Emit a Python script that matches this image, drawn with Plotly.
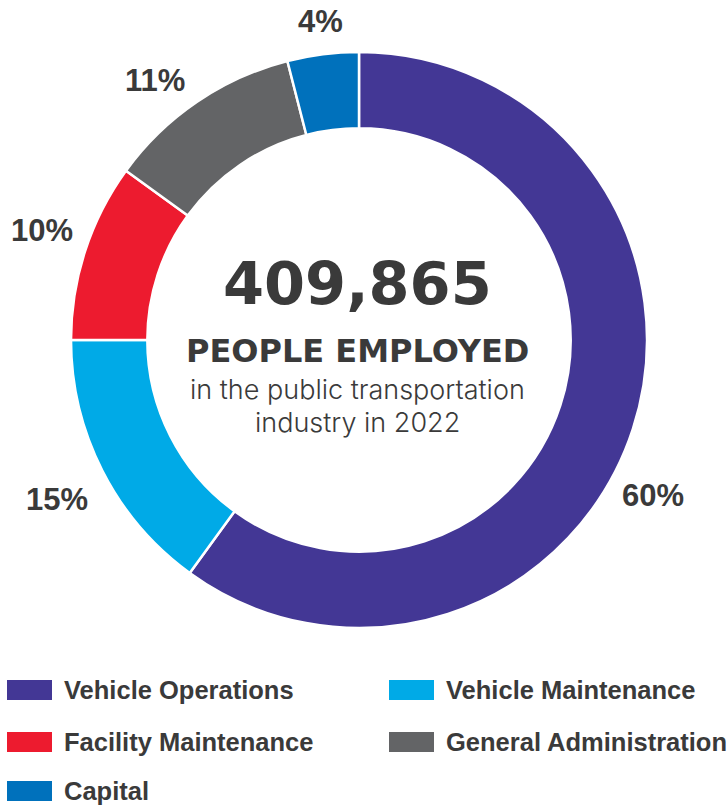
import plotly.graph_objects as go

W, H = 727, 805

categories = ["Vehicle Operations", "Vehicle Maintenance", "Facility Maintenance",
              "General Administration", "Capital"]
values = [60, 15, 10, 11, 4]
colors = ["#433795", "#00AAE7", "#ED1B2F", "#636466", "#0071BC"]
pct_labels = ["60%", "15%", "10%", "11%", "4%"]
label_pos = [(653, 496), (57, 499), (42, 230), (155, 81), (320, 22)]  # pixel centers

legend_order = [0, 1, 2, 3, 4]
legend_pos = [(7, 690), (389, 690), (7, 742), (389, 742), (7, 791)]

total_employed = "409,865"
headline = "PEOPLE EMPLOYED"
sub_lines = ["in the public transportation", "industry in 2022"]

cx, cy, R = 359, 340, 288

def px(x):
    return x / W

def py(y):
    return 1 - y / H

fig = go.Figure()
fig.add_trace(go.Pie(
    labels=categories, values=values, sort=False, direction="clockwise", rotation=0,
    hole=0.735, textinfo="none", hoverinfo="label+percent",
    marker=dict(colors=colors, line=dict(color="white", width=2.5)),
    domain=dict(x=[px(cx - R), px(cx + R)], y=[py(cy + R), py(cy - R)]),
    showlegend=False,
))

ann = []
txtc = "#3a3a3a"
for t, (x, y) in zip(pct_labels, label_pos):
    ann.append(dict(x=px(x), y=py(y), xref="paper", yref="paper", text=t, showarrow=False,
                    xanchor="center", yanchor="middle",
                    font=dict(family="Liberation Sans", size=31, color=txtc, weight="bold")))

ann.append(dict(x=px(357), y=py(283), xref="paper", yref="paper", text=total_employed,
                showarrow=False, xanchor="center", yanchor="middle",
                font=dict(family="DejaVu Sans", size=59, color=txtc, weight="bold")))
ann.append(dict(x=px(357), y=py(351), xref="paper", yref="paper", text=headline,
                showarrow=False, xanchor="center", yanchor="middle",
                font=dict(family="DejaVu Sans", size=32, color=txtc, weight="bold")))
for t, y in zip(sub_lines, [389, 423]):
    ann.append(dict(x=px(357), y=py(y), xref="paper", yref="paper",
                    text=t, showarrow=False, xanchor="center", yanchor="middle",
                    font=dict(family="Inter", size=27, color=txtc, weight=300)))

shapes = []
for i, (x, y) in zip(legend_order, legend_pos):
    shapes.append(dict(type="rect", xref="paper", yref="paper",
                       x0=px(x), x1=px(x + 45), y0=py(y + 10), y1=py(y - 10),
                       fillcolor=colors[i], line=dict(width=0)))
    ann.append(dict(x=px(x + 55), y=py(y), xref="paper", yref="paper", text=categories[i],
                    showarrow=False, xanchor="left", yanchor="middle",
                    font=dict(family="Liberation Sans", size=25.5, color=txtc, weight="bold")))

fig.update_layout(
    width=W, height=H, margin=dict(l=0, r=0, t=0, b=0),
    paper_bgcolor="white", plot_bgcolor="white",
    annotations=ann, shapes=shapes,
)

fig.write_html("out.html", config={"displayModeBar": False},
               post_script="document.body.style.margin='0';document.body.style.overflow='hidden';")
